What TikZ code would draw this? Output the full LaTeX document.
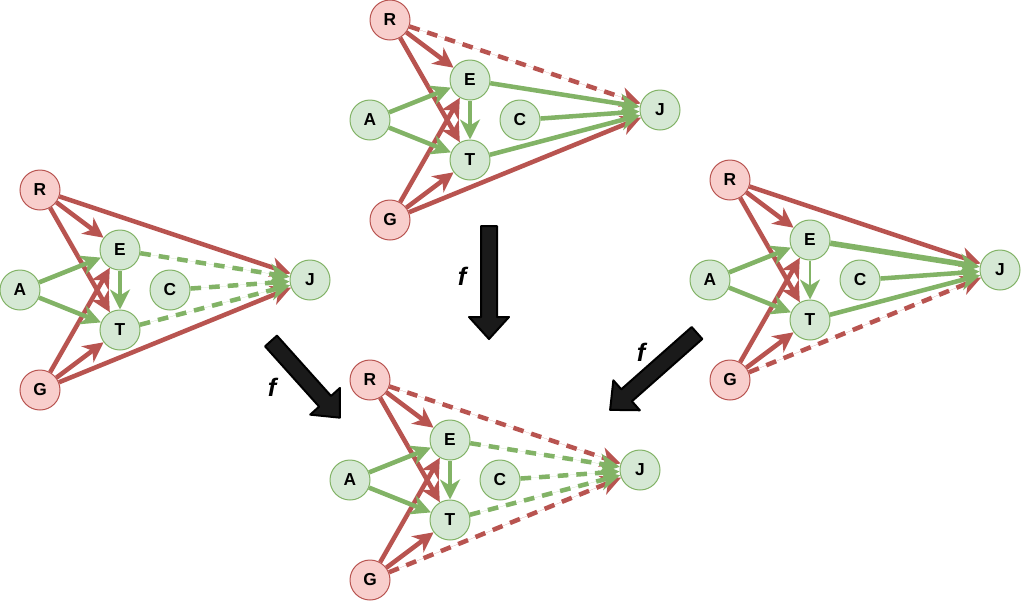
\documentclass[tikz,border=0pt]{standalone}
\usepackage{fontspec}
\setmainfont{Liberation Sans}
\usetikzlibrary{arrows.meta}
\definecolor{redfill}{HTML}{F8CECC}
\definecolor{redline}{HTML}{B85450}
\definecolor{greenfill}{HTML}{D5E8D4}
\definecolor{greenline}{HTML}{82B366}
\definecolor{bigarrow}{HTML}{1A1A1A}
\begin{document}
\begin{tikzpicture}[x=0.75pt,y=-0.75pt,
  var/.style={circle,minimum size=30pt,inner sep=0pt,line width=0.75pt,font=\bfseries\fontsize{13}{14}\selectfont},
  redvar/.style={var,draw=redline,fill=redfill},
  greenvar/.style={var,draw=greenline,fill=greenfill},
  link/.style={line width=3.4pt,-{Stealth[length=15pt,width=15pt,inset=4.5pt]}},
  redlink/.style={link,draw=redline,fill=redline},
  greenlink/.style={link,draw=greenline,fill=greenline},
  gap/.style={dash pattern=on 8pt off 6pt},
  mapto/.style={fill=bigarrow,draw=black,line width=1.5pt,line join=round},
  flabel/.style={font=\bfseries\itshape\fontsize{19}{21}\selectfont}]
\useasboundingbox (0,0) rectangle (1021,601);
% four graphs, each placed by its node A
\foreach \g/\x/\y in {t/370/120,l/20/290,r/710/280,b/350/480}{
  \node[greenvar] (\g A) at (\x,\y) {A};
  \node[redvar] (\g R) at (\x+20,\y-100) {R};
  \node[greenvar] (\g E) at (\x+100,\y-40) {E};
  \node[greenvar] (\g T) at (\x+100,\y+40) {T};
  \node[greenvar] (\g C) at (\x+150,\y) {C};
  \node[greenvar] (\g J) at (\x+290,\y-10) {J};
  \node[redvar] (\g G) at (\x+20,\y+100) {G};
}
% links shared by all four
\foreach \g in {t,l,r,b}{
  \draw[redlink] (\g R) -- (\g E);
  \draw[redlink] (\g R) -- (\g T);
  \draw[redlink] (\g G) -- (\g E);
  \draw[redlink] (\g G) -- (\g T);
  \draw[greenlink] (\g A) -- (\g E);
  \draw[greenlink] (\g A) -- (\g T);
}
\draw[greenlink] (tE) -- (tT);
\draw[greenlink] (lE) -- (lT);
\draw[greenlink] (bE) -- (bT);
\draw[greenlink,line width=2pt] (rE) -- (rT);
% top
\draw[redlink,gap] (tR) -- (tJ);
\draw[redlink] (tG) -- (tJ);
\draw[greenlink] (tE) -- (tJ);
\draw[greenlink] (tC) -- (tJ);
\draw[greenlink] (tT) -- (tJ);
% left
\draw[redlink] (lR) -- (lJ);
\draw[redlink] (lG) -- (lJ);
\draw[greenlink,gap] (lE) -- (lJ);
\draw[greenlink,gap] (lC) -- (lJ);
\draw[greenlink,gap] (lT) -- (lJ);
% right
\draw[redlink] (rR) -- (rJ);
\draw[redlink,gap] (rG) -- (rJ);
\draw[greenlink,line width=4.2pt] (rE) -- (rJ);
\draw[greenlink] (rC) -- (rJ);
\draw[greenlink] (rT) -- (rJ);
% bottom
\draw[redlink,gap] (bR) -- (bJ);
\draw[redlink,gap] (bG) -- (bJ);
\draw[greenlink,gap] (bE) -- (bJ);
\draw[greenlink,gap] (bC) -- (bJ);
\draw[greenlink,gap] (bT) -- (bJ);
% the maps f
\foreach \px/\py/\ang/\len in {489/226/0/113,271/341/41.9/103,697/333/-48.5/116}
  \draw[mapto,shift={(\px,\py)},rotate=\ang] (-8,0) -- (8,0) -- (8,\len-22) -- (20,\len-22)
    -- (0,\len) -- (-20,\len-22) -- (-8,\len-22) -- cycle;
\node[flabel] (ft) at (462,276) {f};
\node[flabel] (fl) at (272,387) {f};
\node[flabel] (fr) at (641,352) {f};
\end{tikzpicture}
\end{document}
